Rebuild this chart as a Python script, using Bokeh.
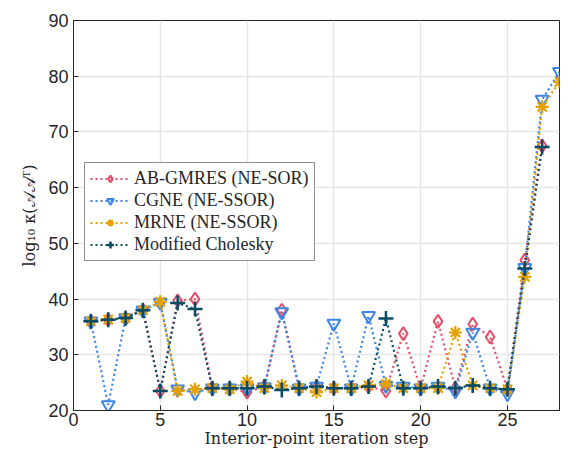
from bokeh.plotting import figure
from bokeh.models import Legend, LegendItem, FixedTicker, Range1d
from bokeh.embed import file_html
from bokeh.resources import INLINE

steps_27 = list(range(1, 28))
steps_28 = list(range(1, 29))

ab_gmres = [36.0, 36.3, 36.6, 38.0, 23.5, 39.7, 40.0, 24.0, 24.0, 23.3, 24.3, 38.0, 24.0,
            24.3, 24.0, 24.0, 24.3, 23.5, 33.8, 24.0, 36.0, 24.0, 35.5, 33.2, 23.8, 47.0, 67.5]
cgne = [36.0, 21.0, 36.6, 38.0, 39.4, 23.8, 23.2, 24.0, 24.0, 24.0, 24.2, 37.7, 24.0, 24.3,
        35.6, 24.0, 37.0, 24.5, 24.3, 24.0, 24.3, 23.5, 34.0, 24.0, 23.0, 45.6, 75.8, 80.8]
mrne = [36.0, 36.3, 36.6, 38.0, 39.5, 23.5, 23.8, 24.0, 23.8, 25.2, 24.0, 24.5, 24.0, 23.3,
        24.0, 24.0, 24.5, 24.8, 24.0, 24.0, 24.0, 34.0, 24.5, 24.0, 23.8, 44.0, 74.5, 79.0]
cholesky = [36.0, 36.3, 36.6, 38.0, 23.5, 39.3, 38.2, 24.0, 24.0, 24.0, 24.3, 23.7, 24.0,
            24.3, 24.0, 24.0, 24.3, 36.5, 24.0, 24.0, 24.3, 24.0, 24.5, 24.0, 23.8, 45.5, 67.3]

labels = ["AB-GMRES (NE-SOR)", "CGNE (NE-SSOR)", "MRNE (NE-SSOR)", "Modified Cholesky"]
x_ticks = [0, 5, 10, 15, 20, 25]
y_ticks = [20, 30, 40, 50, 60, 70, 80, 90]

SANS = "'Liberation Sans'"
SERIF = "'DejaVu Serif'"

p = figure(width=560, height=450, output_backend="svg", toolbar_location=None,
           x_range=Range1d(0, 28), y_range=Range1d(20, 90),
           min_border_left=73, min_border_right=1, min_border_top=20, min_border_bottom=39)

p.outline_line_color = "#262626"
p.outline_line_width = 1
p.outline_line_alpha = 1
p.background_fill_color = "white"
p.border_fill_color = "white"

for ax in (p.xaxis[0], p.yaxis[0]):
    ax.axis_line_color = "#262626"
    ax.major_tick_line_color = "#262626"
    ax.major_tick_in = 5
    ax.major_tick_out = 0
    ax.minor_tick_line_color = None
    ax.major_label_text_font = SANS
    ax.major_label_text_font_size = "18px"
    ax.major_label_text_color = "#262626"
    ax.axis_label_text_font = SERIF
    ax.axis_label_text_font_style = "normal"
    ax.axis_label_text_font_size = "16px"
    ax.axis_label_text_color = "#262626"

p.xaxis.ticker = FixedTicker(ticks=x_ticks)
p.yaxis.ticker = FixedTicker(ticks=y_ticks)
p.xaxis.major_label_standoff = 2
p.yaxis.major_label_standoff = 5
p.xaxis.axis_label = "Interior-point iteration step"
p.yaxis.axis_label = "log\u2081\u2080 \u03ba(\U0001D49C\U0001D49C\u1d40)"
p.xaxis.axis_label_standoff = 0
p.yaxis.axis_label_standoff = 6

p.xgrid.grid_line_color = "#e6e6e6"
p.ygrid.grid_line_color = "#e6e6e6"
p.xgrid.grid_line_width = 1.5
p.ygrid.grid_line_width = 1.5

series = [
    (steps_27, ab_gmres, "#E5506B", "diamond", 13, 2),
    (steps_28, cgne, "#3B86E6", "inverted_triangle", 13, 2),
    (steps_28, mrne, "#E69F00", "asterisk", 13, 2.2),
    (steps_27, cholesky, "#0A4C63", "cross", 15, 2.5),
]

items = []
for (xs, ys, color, marker, size, mlw), lab in zip(series, labels):
    lr = p.line(xs, ys, line_color=color, line_width=2.2, line_dash="2 3")
    sr = p.scatter(xs, ys, marker=marker, size=size, line_color=color, fill_color=None,
                   line_width=mlw)
    items.append(LegendItem(label=lab, renderers=[lr, sr]))

legend = Legend(items=items, location=(11, 149))
legend.label_text_font = "'Liberation Serif'"
legend.label_text_font_size = "18px"
legend.label_text_color = "#262626"
legend.border_line_color = "#262626"
legend.border_line_width = 1
legend.background_fill_color = "white"
legend.background_fill_alpha = 1
legend.glyph_width = 40
legend.glyph_height = 17
legend.label_standoff = 4
legend.label_height = 17
legend.spacing = 1
legend.padding = 5
legend.margin = 0
p.add_layout(legend, "center")

open("out.html", "w").write(file_html(p, INLINE))
